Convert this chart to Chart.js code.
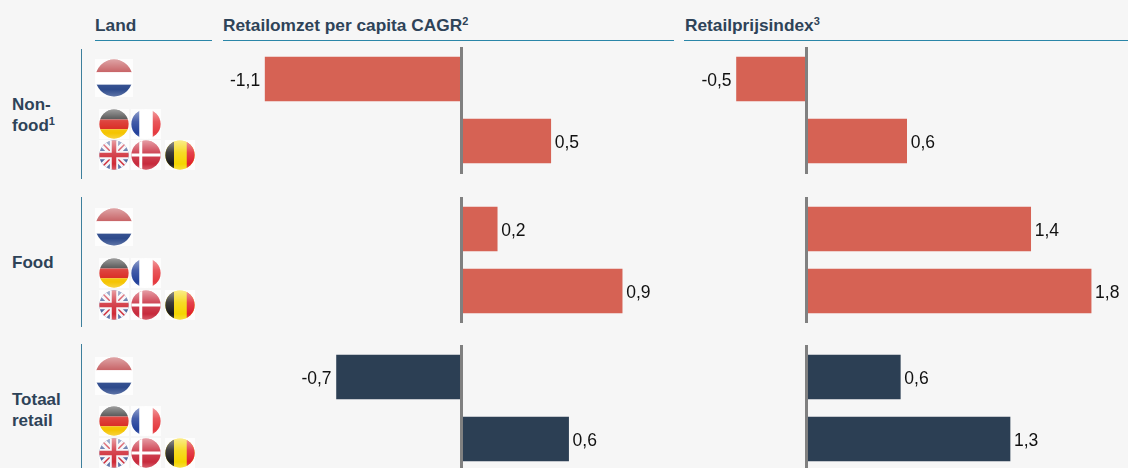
<!DOCTYPE html>
<html><head><meta charset="utf-8">
<script src="https://cdn.jsdelivr.net/npm/chart.js@4"></script>
<style>
html,body{margin:0;padding:0;background:#f6f6f6;overflow:hidden;width:1128px;height:468px}
body{position:relative;font-family:"Liberation Sans",Arial,sans-serif;color:#2e4358}
.abs{position:absolute}
.hd{font-weight:bold;font-size:17.3px;line-height:18px;white-space:nowrap}
.hd sup,.gl sup{font-size:11px;line-height:0;vertical-align:baseline;position:relative;top:-6px}
.rule{height:1px;background:#2a86a8}
.vr{width:1px;background:#3d7f9c}
.gl{font-weight:bold;font-size:17px;line-height:21px;white-space:nowrap}
.pan{position:absolute;overflow:hidden}
svg.f{position:absolute;filter:blur(.6px)}
</style></head><body>
<script>
const rows=[0,1];
const retailValues=[[-1.1,0.5],[0.2,0.9],[-0.7,0.6]];
const retailLabels=[['-1,1','0,5'],['0,2','0,9'],['-0,7','0,6']];
const priceValues=[[-0.44,0.63],[1.41,1.79],[0.59,1.28]];
const priceLabels=[['-0,5','0,6'],['1,4','1,8'],['0,6','1,3']];
const groupColors=['#d66254','#d66254','#2c3f54'];

function el(cls,css,html){const d=document.createElement('div');d.className='abs '+cls;d.style.cssText=css;if(html)d.innerHTML=html;document.body.appendChild(d);return d;}

el('hd','left:95px;top:16px','Land');
el('hd','left:223px;top:16px','Retailomzet per capita CAGR<sup>2</sup>');
el('hd','left:685px;top:16px','Retailprijsindex<sup>3</sup>');
el('rule','left:95px;top:40px;width:117px');
el('rule','left:223px;top:40px;width:451px');
el('rule','left:684px;top:40px;width:444px');
el('gl','left:12px;top:94px','Non-<br>food<sup>1</sup>');
el('gl','left:12px;top:252px','Food');
el('gl','left:12px;top:389px','Totaal<br>retail');
el('vr','left:81px;top:49px;height:130px');
el('vr','left:81px;top:197px;height:130px');
el('vr','left:81px;top:344px;height:124px');

const flagArt={
 nl:'<rect width="40" height="14" fill="#b8383c"/><rect y="14" width="40" height="13" fill="#fff"/><rect y="27" width="40" height="13" fill="#2d4a8c"/>',
 de:'<rect width="40" height="14" fill="#2a2a2a"/><rect y="14" width="40" height="13" fill="#d8231c"/><rect y="27" width="40" height="13" fill="#f5c400"/>',
 fr:'<rect width="40" height="40" fill="#fff"/><rect width="11" height="40" fill="#22409a"/><rect x="29" width="11" height="40" fill="#e5393e"/>',
 uk:'<rect width="40" height="40" fill="#4a629c"/><path d="M0 0L40 40M40 0L0 40" stroke="#f4f4f8" stroke-width="9"/><path d="M0 0L40 40M40 0L0 40" stroke="#cf2a36" stroke-width="2"/><path d="M20 0V40M0 20H40" stroke="#f4f4f8" stroke-width="11"/><path d="M20 0V40M0 20H40" stroke="#cf2a36" stroke-width="6"/>',
 dk:'<rect width="40" height="40" fill="#c82a3c"/><path d="M13 0V40M0 20H40" stroke="#fff" stroke-width="4"/>',
 be:'<rect width="40" height="40" fill="#f5d500"/><rect width="12" height="40" fill="#1a1a1a"/><rect x="29" width="11" height="40" fill="#e0202c"/>'
};
let fid=0;
function flag(code,cx,cy,d){
  const id='g'+(fid++);
  const s=document.createElementNS('http://www.w3.org/2000/svg','svg');
  s.setAttribute('class','f');s.setAttribute('viewBox','0 0 40 40');s.setAttribute('width',d);s.setAttribute('height',d);
  s.style.left=(cx-d/2)+'px';s.style.top=(cy-d/2)+'px';
  s.innerHTML='<defs><linearGradient id="'+id+'" x1="0" y1="0" x2="0" y2="1"><stop offset="0" stop-color="#fff" stop-opacity=".55"/><stop offset=".42" stop-color="#fff" stop-opacity=".15"/><stop offset=".8" stop-color="#fff" stop-opacity="0"/><stop offset="1" stop-color="#fff" stop-opacity=".25"/></linearGradient></defs><clipPath id="c'+id+'"><circle cx="20" cy="20" r="19.5"/></clipPath><rect width="40" height="40" fill="#fff" opacity=".8"/><g clip-path="url(#c'+id+')">'+flagArt[code]+'<rect width="40" height="40" fill="url(#'+id+')"/></g>';
  document.body.appendChild(s);
}
[0,1,2].forEach(i=>{
  const yNL=[78,226.5,375.5][i], y1=[123.5,272.5,420.5][i], y2=[154.5,304.5,452.5][i];
  flag('nl',113.5,yNL,38);
  flag('de',114,y1,30);flag('fr',146,y1,30);
  flag('uk',114,y2,30);flag('dk',146,y2,30);flag('be',180,y2,30);
});

const valueLabels={id:'valueLabels',afterDatasetsDraw(c,a,o){
  const g=c.ctx,m=c.getDatasetMeta(0);
  g.save();g.font='17.5px "Liberation Sans", Arial, sans-serif';g.fillStyle='#111';g.textBaseline='middle';
  m.data.forEach((b,i)=>{const v=c.data.datasets[0].data[i].x;
    g.textAlign=v<0?'right':'left';
    g.fillText(o.labels[i],b.x+(v<0?-5:4),b.y+2);});
  g.restore();
}};

const tops=[47,197,345], heights=[127,126,123];
const rowPitch=62, firstRow=32;
[0,1,2].forEach(i=>{
  const mk=(l,w,v,lb,ax)=>{
    const h=heights[i];
    const d=document.createElement('div');d.className='pan';
    d.style.cssText=`left:${l}px;top:${tops[i]}px;width:${w}px;height:${h}px`;
    const cv=document.createElement('canvas');cv.width=w;cv.height=h;cv.style.cssText=`width:${w}px;height:${h}px;display:block`;
    d.appendChild(cv);document.body.appendChild(d);
    new Chart(cv,{type:'bar',plugins:[valueLabels],
      data:{datasets:[{data:rows.map(r=>({x:v[r],y:r})),backgroundColor:groupColors[i],barThickness:44,borderWidth:0}]},
      options:{indexAxis:'y',responsive:false,animation:false,layout:{padding:0},
        plugins:{legend:{display:false},tooltip:{enabled:false},valueLabels:{labels:lb}},
        scales:{
          x:{type:'linear',min:ax.min,max:ax.max,display:false,grid:{display:false}},
          y:{type:'linear',offset:false,reverse:true,min:-firstRow/rowPitch,max:(h-firstRow)/rowPitch,position:{x:0},afterFit(s){s.width=0},
             grid:{display:false,drawTicks:false},ticks:{display:false},border:{display:true,color:'#808080',width:3,z:1}}
        }}});
  };
  // 178.5 px per unit in the left panel, 159 px per unit in the right one
  mk(230,462,retailValues[i],retailLabels[i],{min:-231.5/178.5,max:230.5/178.5});
  mk(700,428,priceValues[i],priceLabels[i],{min:-106.5/159,max:321.5/159});
});
</script>
</body></html>
